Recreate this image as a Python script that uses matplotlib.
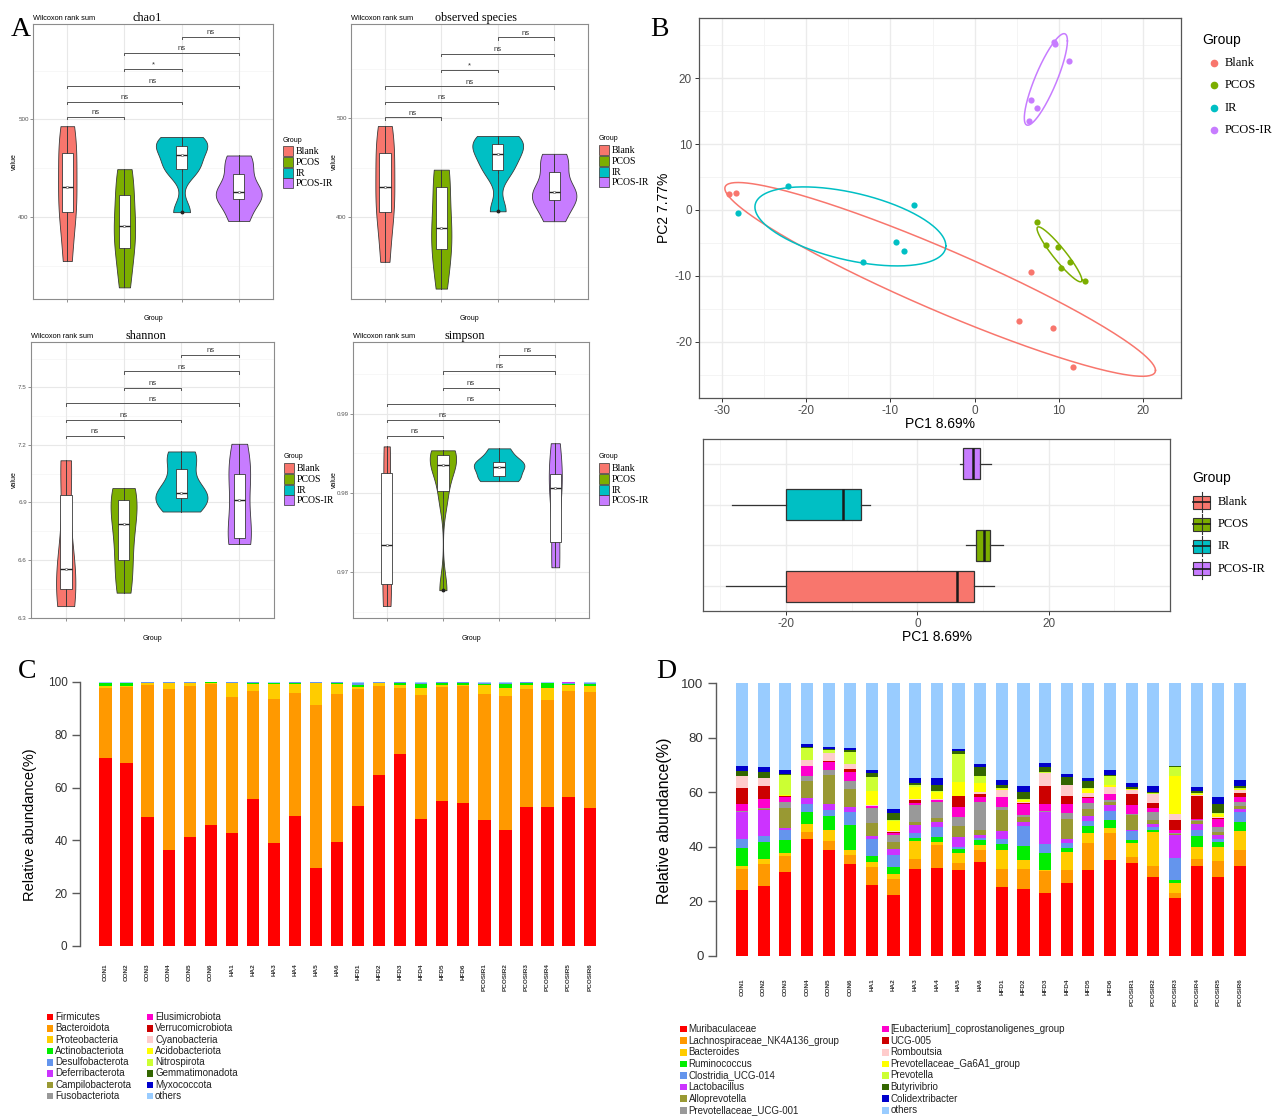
import numpy as np
import matplotlib
matplotlib.use("Agg")
import matplotlib.pyplot as plt
from matplotlib.patches import Rectangle
from matplotlib.lines import Line2D

W, H = 1280, 1117
SANS = ['Liberation Sans', 'DejaVu Sans']
SERIF = ['Liberation Serif', 'DejaVu Serif']
plt.rcParams['font.family'] = SANS
plt.rcParams['axes.unicode_minus'] = False

# ---------------- Panel A data (alpha diversity) ----------------
GROUPS = ['Blank', 'PCOS', 'IR', 'PCOS-IR']
GROUP_COLORS = ['#F8766D', '#7CAE00', '#00BFC4', '#C77CFF']

chao1_blank = [355, 402, 415, 447, 472, 493]
chao1_pcos = [328, 363, 383, 399, 430, 449]
chao1_ir = [405, 447, 455, 473, 473, 482]
chao1_pcosir = [396, 416, 424, 428, 449, 463]

obs_blank = [355, 402, 415, 446, 471, 492]
obs_pcos = [328, 364, 380, 398, 441, 448]
obs_ir = [406, 445, 457, 471, 475, 482]
obs_pcosir = [396, 416, 422, 428, 451, 464]

shannon_blank = [6.36, 6.42, 6.53, 6.58, 7.06, 7.12]
shannon_pcos = [6.43, 6.56, 6.72, 6.86, 6.93, 6.975]
shannon_ir = [6.853, 6.92, 6.93, 6.968, 7.112, 7.166]
shannon_pcosir = [6.684, 6.686, 6.80, 7.024, 7.059, 7.206]

simpson_blank = [0.9657, 0.9680, 0.9698, 0.9770, 0.9844, 0.9859]
simpson_pcos = [0.9677, 0.9794, 0.9830, 0.9840, 0.9850, 0.9854]
simpson_ir = [0.9815, 0.9818, 0.9831, 0.9836, 0.9841, 0.98565]
simpson_pcosir = [0.9706, 0.9718, 0.9800, 0.9812, 0.9828, 0.9863]

PAIRS = [(1, 2), (1, 3), (1, 4), (2, 3), (2, 4), (3, 4)]
chao1_sig = ['ns', 'ns', 'ns', '*', 'ns', 'ns']
obs_sig = ['ns', 'ns', 'ns', '*', 'ns', 'ns']
shannon_sig = ['ns'] * 6
simpson_sig = ['ns'] * 6
chao1_bracket_y = [502.4, 518.2, 534.6, 551.4, 567.8, 584.6]
obs_bracket_y = [500.7, 516.2, 532.0, 548.8, 565.0, 581.5]
shannon_bracket_y = [7.249, 7.332, 7.416, 7.498, 7.583, 7.670]
simpson_bracket_y = [0.98726, 0.98928, 0.99131, 0.99333, 0.99540, 0.99751]

# ---------------- Panel B data (PCA) ----------------
pc1_blank = [-29.15, -28.34, 6.66, 5.33, 9.27, 11.69]
pc2_blank = [2.38, 2.53, -9.47, -16.86, -17.87, -23.85]
pc1_pcos = [7.42, 8.51, 9.89, 11.31, 10.27, 13.07]
pc2_pcos = [-1.87, -5.32, -5.62, -7.95, -8.81, -10.78]
pc1_ir = [-22.17, -28.15, -7.21, -9.30, -8.44, -13.24]
pc2_ir = [3.70, -0.41, 0.71, -4.86, -6.18, -7.90]
pc1_pcosir = [9.46, 9.56, 11.26, 6.70, 7.37, 6.42]
pc2_pcosir = [25.47, 25.11, 22.53, 16.66, 15.44, 13.52]

# ---------------- Panels C / D data ----------------
SAMPLES = ['CON1', 'CON2', 'CON3', 'CON4', 'CON5', 'CON6',
           'HA1', 'HA2', 'HA3', 'HA4', 'HA5', 'HA6',
           'HFD1', 'HFD2', 'HFD3', 'HFD4', 'HFD5', 'HFD6',
           'PCOSIR1', 'PCOSIR2', 'PCOSIR3', 'PCOSIR4', 'PCOSIR5', 'PCOSIR6']

PHYLA = ['Firmicutes', 'Bacteroidota', 'Proteobacteria', 'Actinobacteriota',
         'Desulfobacterota', 'Deferribacterota', 'Campilobacterota', 'Fusobacteriota',
         'Elusimicrobiota', 'Verrucomicrobiota', 'Cyanobacteria', 'Acidobacteriota',
         'Nitrospirota', 'Gemmatimonadota', 'Myxococcota', 'others']
GENERA = ['Muribaculaceae', 'Lachnospiraceae_NK4A136_group', 'Bacteroides', 'Ruminococcus',
          'Clostridia_UCG-014', 'Lactobacillus', 'Alloprevotella', 'Prevotellaceae_UCG-001',
          '[Eubacterium]_coprostanoligenes_group', 'UCG-005', 'Romboutsia',
          'Prevotellaceae_Ga6A1_group', 'Prevotella', 'Butyrivibrio', 'Colidextribacter', 'others']
TAXA_COLORS = ['#FF0000', '#FF9900', '#FFCC00', '#00EE00', '#6495ED', '#CC33FF', '#999933',
               '#999999', '#FF00CC', '#CC0000', '#FFCCCC', '#FFFF00', '#CCFF33', '#336600',
               '#0000CC', '#99CCFF']

firmicutes = [71.2, 69.2, 48.7, 36.4, 41.2, 45.9, 42.7, 55.6, 39.2, 49.1, 29.6, 39.5,
              53.0, 64.7, 72.8, 48.2, 55.0, 54.0, 47.7, 44.1, 52.7, 52.8, 56.4, 52.1]
bacteroidota = [26.7, 28.9, 50.2, 61.1, 57.4, 53.5, 51.5, 41.1, 54.5, 46.6, 61.7, 56.0,
                44.2, 33.7, 25.1, 46.9, 43.1, 44.5, 47.6, 50.5, 44.7, 40.4, 40.2, 44.1]
proteobacteria = [0.6, 0.4, 0.6, 2.0, 0.9, 0.3, 5.4, 2.7, 5.4, 3.4, 8.2, 3.7,
                  0.9, 1.1, 0.8, 2.8, 0.9, 0.5, 3.4, 3.3, 1.3, 4.7, 2.1, 2.1]
actinobacteriota = [1.2, 1.2, 0.3, 0.3, 0.3, 0.2, 0.2, 0.4, 0.4, 0.6, 0.3, 0.6,
                    0.6, 0.3, 1.1, 1.2, 0.7, 0.7, 0.7, 1.2, 0.9, 1.6, 0.6, 0.9]
desulfobacterota = [0.1, 0.1, 0.1, 0.1, 0.1, 0.0, 0.1, 0.1, 0.3, 0.2, 0.1, 0.1,
                    1.1, 0.1, 0.1, 0.7, 0.2, 0.2, 0.4, 0.7, 0.3, 0.3, 0.2, 0.5]
deferribacterota = [0.0, 0.0, 0.0, 0.0, 0.0, 0.0, 0.0, 0.0, 0.0, 0.0, 0.0, 0.0,
                    0.0, 0.0, 0.0, 0.0, 0.0, 0.0, 0.0, 0.0, 0.0, 0.0, 0.4, 0.0]
phylum_others = [0.2, 0.2, 0.1, 0.1, 0.1, 0.1, 0.1, 0.1, 0.2, 0.1, 0.1, 0.1,
                 0.2, 0.1, 0.1, 0.2, 0.1, 0.1, 0.2, 0.2, 0.1, 0.2, 0.1, 0.3]

muribaculaceae = [24.3, 25.6, 30.6, 43.0, 38.7, 33.8, 25.9, 22.3, 32.0, 32.4, 31.6, 34.3,
                  25.3, 24.5, 23.1, 26.7, 31.6, 35.0, 34.1, 29.1, 21.4, 33.0, 28.9, 33.1]
lachno_nk4a136 = [7.4, 8.2, 6.0, 2.4, 3.4, 3.1, 6.6, 5.9, 3.4, 8.4, 2.6, 4.7,
                  6.7, 7.2, 8.0, 4.7, 9.8, 10.1, 2.0, 3.7, 1.8, 2.4, 5.8, 5.9]
bacteroides = [1.1, 1.6, 1.3, 3.1, 3.9, 2.1, 1.8, 2.0, 6.6, 1.1, 3.4, 1.8,
               6.7, 3.6, 0.3, 6.7, 3.7, 1.8, 5.3, 12.6, 3.5, 4.5, 5.2, 6.7]
ruminococcus = [6.9, 6.2, 4.7, 4.1, 5.4, 8.9, 2.3, 2.4, 1.1, 1.7, 1.5, 1.6,
                2.4, 5.0, 6.5, 1.3, 2.4, 2.9, 1.2, 0.9, 1.3, 3.9, 1.7, 3.4]
clostridia_ucg014 = [3.0, 2.4, 3.7, 3.0, 2.2, 5.0, 6.3, 4.4, 2.1, 3.7, 0.8, 0.9,
                     1.9, 7.3, 3.2, 2.0, 2.0, 3.3, 3.1, 1.0, 7.9, 2.2, 1.1, 3.6]
lactobacillus = [9.9, 9.6, 0.7, 2.4, 2.1, 1.7, 1.1, 2.2, 2.8, 1.9, 3.7, 1.1,
                 2.8, 1.5, 11.6, 1.6, 1.8, 2.1, 0.3, 0.9, 8.3, 2.2, 1.5, 1.3]
alloprevotella = [0.3, 0.2, 7.3, 6.0, 10.6, 6.7, 4.7, 2.4, 1.1, 1.2, 3.9, 1.9,
                  7.8, 1.8, 0.2, 7.2, 2.7, 1.2, 5.8, 1.7, 0.5, 1.3, 1.2, 1.1]
prevotellaceae_ucg001 = [0.2, 0.3, 2.1, 1.8, 2.0, 2.7, 5.5, 2.8, 6.1, 6.0, 3.4, 10.0,
                         1.0, 0.7, 0.3, 2.2, 2.2, 0.6, 0.3, 2.8, 0.4, 0.4, 1.9, 1.3]
eubacterium_copro = [2.5, 3.3, 1.8, 3.7, 2.6, 3.4, 0.6, 0.7, 1.0, 0.6, 3.7, 1.8,
                     3.6, 4.0, 2.4, 3.3, 1.6, 2.2, 3.1, 1.5, 0.9, 0.3, 3.0, 1.8]
ucg005 = [5.8, 5.0, 0.3, 0.1, 0.4, 1.2, 0.2, 0.3, 0.8, 0.2, 3.9, 1.1,
          0.2, 0.4, 6.8, 2.8, 0.3, 0.2, 4.0, 1.8, 3.9, 8.3, 0.4, 1.5]
romboutsia = [4.5, 2.8, 0.2, 2.1, 3.2, 1.6, 0.3, 0.4, 0.4, 0.4, 0.2, 0.7,
              2.5, 0.4, 4.8, 4.0, 1.6, 2.5, 1.7, 3.2, 2.2, 0.6, 0.2, 1.2]
prevotellaceae_ga6a1 = [0.0, 0.0, 0.2, 0.0, 0.0, 0.2, 5.1, 3.7, 4.5, 2.5, 5.0, 3.5,
                        0.3, 0.9, 0.0, 0.1, 1.5, 0.6, 0.1, 0.2, 13.7, 0.3, 1.2, 0.3]
prevotella = [0.0, 0.0, 7.3, 4.5, 0.8, 4.4, 5.2, 0.3, 0.6, 0.3, 10.3, 2.7,
              0.3, 0.1, 0.2, 0.1, 0.3, 3.3, 0.3, 0.2, 3.4, 0.3, 0.2, 0.5]
butyrivibrio = [1.9, 2.1, 0.3, 0.4, 0.4, 0.5, 1.4, 2.6, 1.0, 2.4, 1.0, 3.1,
                1.0, 2.7, 1.8, 2.9, 2.6, 0.4, 0.6, 0.6, 0.3, 0.6, 3.5, 0.4]
colidextribacter = [1.8, 1.9, 1.8, 0.9, 0.7, 0.9, 1.0, 1.3, 1.6, 2.3, 0.7, 1.3,
                    2.1, 2.0, 1.5, 1.2, 1.0, 1.8, 1.6, 1.9, 0.2, 1.6, 2.4, 2.2]
genus_others = [30.4, 30.8, 31.7, 22.5, 23.6, 23.8, 32.0, 46.3, 34.9, 34.9, 24.3, 29.5,
                35.4, 37.9, 29.3, 33.2, 34.9, 32.0, 36.5, 37.9, 30.3, 38.1, 41.8, 35.7]

# =================================================================
fig = plt.figure(figsize=(W / 100, H / 100), dpi=100)


def px_axes(l, t, r, b):
    return fig.add_axes([l / W, 1 - b / H, (r - l) / W, (b - t) / H])


def ftext(x, y, s, **kw):
    return fig.text(x / W, 1 - y / H, s, **kw)


def frect(l, t, w, h, **kw):
    r = Rectangle((l / W, 1 - (t + h) / H), w / W, h / H, transform=fig.transFigure, **kw)
    fig.add_artist(r)
    return r


def fline(xs, ys, **kw):
    ln = Line2D([x / W for x in xs], [1 - y / H for y in ys], transform=fig.transFigure, **kw)
    fig.add_artist(ln)
    return ln


def nrd0(x):
    x = np.asarray(x, float)
    sd = x.std(ddof=1)
    q75, q25 = np.percentile(x, [75, 25])
    lo = min(sd, (q75 - q25) / 1.34)
    if lo <= 0:
        lo = sd
    return 0.9 * lo * len(x) ** -0.2


def kde(x, grid):
    x = np.asarray(x, float)
    bw = nrd0(x)
    z = (grid[:, None] - x[None, :]) / bw
    return np.exp(-0.5 * z ** 2).sum(1) / (len(x) * bw * np.sqrt(2 * np.pi))


# ---------------- Panel A ----------------
def alpha_panel(rect, samples, ylim, major, minor, fmt, br_y, br_lab,
                title, title_x, text_y, legend_xy, ylab_x, xlab_y):
    l, t, r, b = rect
    ax = px_axes(l, t, r, b)
    ax.set_xlim(0.4, 4.6)
    ax.set_ylim(*ylim)
    for v in minor:
        ax.axhline(v, color='#F4F4F4', lw=0.5, zorder=0)
    for v in major:
        ax.axhline(v, color='#E8E8E8', lw=0.8, zorder=0)
    for k in range(1, 5):
        ax.axvline(k, color='#E8E8E8', lw=0.8, zorder=0)
    grids, dens = [], []
    for s in samples:
        g = np.linspace(min(s), max(s), 512)
        grids.append(g)
        dens.append(kde(s, g))
    dmax = max(d.max() for d in dens)
    for i, (s, g, d) in enumerate(zip(samples, grids, dens)):
        xc = i + 1
        hw = 0.45 * d / dmax
        ax.fill_betweenx(g, xc - hw, xc + hw, facecolor=GROUP_COLORS[i],
                         edgecolor='#3a3a3a', lw=0.6, zorder=2)
        ax.plot([xc, xc], [min(s), max(s)], color='#3a3a3a', lw=0.6, zorder=3)
    ax.boxplot(samples, positions=[1, 2, 3, 4], widths=0.2, patch_artist=True,
               manage_ticks=False, zorder=4,
               boxprops=dict(facecolor='white', edgecolor='#3a3a3a', lw=0.6),
               medianprops=dict(color='#222222', lw=1.0),
               whiskerprops=dict(color='#3a3a3a', lw=0.6),
               capprops=dict(lw=0),
               flierprops=dict(marker='o', markersize=1.8, markerfacecolor='#222222',
                               markeredgecolor='#222222'))
    for i, s in enumerate(samples):
        ax.plot(i + 1, np.median(s), 'o', ms=1.6, mfc='white', mec='#555555', mew=0.4, zorder=5)
    rng = ylim[1] - ylim[0]
    tip = 0.008 * rng
    for (a, bb), yv, lab in zip(PAIRS, br_y, br_lab):
        ax.plot([a, a, bb, bb], [yv - tip, yv, yv, yv - tip], color='#555555', lw=0.7, zorder=3)
        ax.text((a + bb) / 2, yv + 0.003 * rng, lab, ha='center', va='bottom',
                fontsize=5.5, color='#333333')
    ax.set_yticks(major)
    ax.set_yticklabels([fmt.format(v) for v in major])
    ax.set_xticks([1, 2, 3, 4])
    ax.set_xticklabels([])
    ax.tick_params(length=2, width=0.5, color='#666666', labelsize=4.5,
                   labelcolor='#555555', pad=1)
    for sp in ax.spines.values():
        sp.set_color('#8c8c8c')
        sp.set_linewidth(0.8)
    ftext(l, text_y, 'Wilcoxon rank sum', fontsize=5.3, ha='left', va='baseline')
    ftext(title_x, text_y + 1, title, fontsize=8.7, family=SERIF, ha='center', va='baseline')
    ftext(ylab_x, (t + b) / 2, 'value', fontsize=5, rotation=90, ha='center', va='center')
    ftext((l + r) / 2, xlab_y, 'Group', fontsize=5, ha='center', va='center')
    lx, ly = legend_xy
    ftext(lx, ly, 'Group', fontsize=5, ha='left', va='center')
    for i, (g, c) in enumerate(zip(GROUPS, GROUP_COLORS)):
        top = ly + 6 + i * 10.8
        frect(lx, top, 10, 10, facecolor=c, edgecolor='#333333', lw=0.5)
        ftext(lx + 13, top + 5.5, g, fontsize=7, family=SERIF, ha='left', va='center')
    return ax


alpha_panel((33, 24, 273, 299), [chao1_blank, chao1_pcos, chao1_ir, chao1_pcosir],
            (316.1, 597.6), [400, 500], [350, 450, 550], '{:.0f}',
            chao1_bracket_y, chao1_sig, 'chao1', 147, 20, (283, 140), 14.5, 319)
alpha_panel((351, 24, 588, 299), [obs_blank, obs_pcos, obs_ir, obs_pcosir],
            (317.5, 595.0), [400, 500], [350, 450, 550], '{:.0f}',
            obs_bracket_y, obs_sig, 'observed species', 476, 20, (599, 139), 334, 319)
alpha_panel((31, 342, 274, 618), [shannon_blank, shannon_pcos, shannon_ir, shannon_pcosir],
            (6.298, 7.7365), [6.3, 6.6, 6.9, 7.2, 7.5], [6.45, 6.75, 7.05, 7.35, 7.65], '{:.1f}',
            shannon_bracket_y, shannon_sig, 'shannon', 146, 337.5, (284, 457), 14, 638)
alpha_panel((353, 342, 589, 618), [simpson_blank, simpson_pcos, simpson_ir, simpson_pcosir],
            (0.96418, 0.99911), [0.97, 0.98, 0.99], [0.965, 0.975, 0.985, 0.995], '{:.2f}',
            simpson_bracket_y, simpson_sig, 'simpson', 465, 337.5, (599, 457), 334, 638)

# ---------------- Panel B: PCA scatter ----------------
PC1 = [pc1_blank, pc1_pcos, pc1_ir, pc1_pcosir]
PC2 = [pc2_blank, pc2_pcos, pc2_ir, pc2_pcosir]

axS = px_axes(699, 18, 1181, 398)
axS.set_xlim(-32.73, 24.51)
axS.set_ylim(-28.5, 29.1)
for v in [-25, -15, -5, 5, 15]:
    axS.axvline(v, color='#F3F3F3', lw=0.6, zorder=0)
for v in [-25, -15, -5, 5, 15, 25]:
    axS.axhline(v, color='#F3F3F3', lw=0.6, zorder=0)
for v in [-30, -20, -10, 0, 10, 20]:
    axS.axvline(v, color='#EBEBEB', lw=1.0, zorder=0)
for v in [-20, -10, 0, 10, 20]:
    axS.axhline(v, color='#EBEBEB', lw=1.0, zorder=0)


def ellipse(x, y, r=1.33, n=240):
    x = np.asarray(x, float)
    y = np.asarray(y, float)
    cov = np.cov(x, y)
    L = np.linalg.cholesky(cov)
    t = np.linspace(0, 2 * np.pi, n)
    pts = L @ np.vstack([np.cos(t), np.sin(t)]) * r
    return x.mean() + pts[0], y.mean() + pts[1]


for x, y, c in zip(PC1, PC2, GROUP_COLORS):
    ex, ey = ellipse(x, y)
    axS.plot(ex, ey, color=c, lw=1.1, zorder=2)
    axS.scatter(x, y, s=20, color=c, linewidths=0, zorder=3)
axS.set_xticks([-30, -20, -10, 0, 10, 20])
axS.set_yticks([-20, -10, 0, 10, 20])
axS.tick_params(length=3, width=0.7, color='#333333', labelsize=8.5, labelcolor='#4D4D4D', pad=2)
for sp in axS.spines.values():
    sp.set_color('#555555')
    sp.set_linewidth(0.9)
ftext(940, 424, 'PC1 8.69%', fontsize=10, ha='center', va='center')
ftext(664, 208, 'PC2 7.77%', fontsize=10, rotation=90, ha='center', va='center')
ftext(1202, 40, 'Group', fontsize=10, ha='left', va='center')
for i, (g, c) in enumerate(zip(GROUPS, GROUP_COLORS)):
    yy = 63 + i * 22.3
    fline([1214], [yy], marker='o', ms=4.5, color=c, mec=c, lw=0)
    ftext(1225, yy, g, fontsize=9, family=SERIF, ha='left', va='center')

# ---------------- Panel B: PC1 boxplot ----------------
axBx = px_axes(703, 439, 1170, 611)
axBx.set_xlim(-32.63, 38.45)
axBx.set_ylim(0.4, 4.6)
for v in [-30, -10, 10, 30]:
    axBx.axvline(v, color='#F3F3F3', lw=0.6, zorder=0)
for v in [-20, 0, 20]:
    axBx.axvline(v, color='#EBEBEB', lw=1.0, zorder=0)
for v in [1, 2, 3, 4]:
    axBx.axhline(v, color='#EBEBEB', lw=1.0, zorder=0)
bx_kw = dict(positions=[1, 2, 3, 4], widths=0.75, patch_artist=True, manage_ticks=False,
             zorder=3,
             boxprops=dict(edgecolor='#333333', lw=0.9),
             medianprops=dict(color='#1a1a1a', lw=1.8),
             whiskerprops=dict(color='#333333', lw=0.9),
             capprops=dict(lw=0),
             flierprops=dict(marker='o', markersize=3, markerfacecolor='#333333'))
try:
    bp = axBx.boxplot(PC1, orientation='horizontal', **bx_kw)
except TypeError:
    bp = axBx.boxplot(PC1, vert=False, **bx_kw)
for patch, c in zip(bp['boxes'], GROUP_COLORS):
    patch.set_facecolor(c)
axBx.set_xticks([-20, 0, 20])
axBx.set_yticks([])
axBx.tick_params(axis='x', length=3, width=0.7, color='#333333', labelsize=8.5,
                 labelcolor='#4D4D4D', pad=2)
for sp in axBx.spines.values():
    sp.set_color('#555555')
    sp.set_linewidth(0.9)
ftext(937, 637, 'PC1 8.69%', fontsize=10, ha='center', va='center')
ftext(1192, 478, 'Group', fontsize=10, ha='left', va='center')
for i, (g, c) in enumerate(zip(GROUPS, GROUP_COLORS)):
    yc = 502 + i * 22.2
    fline([1201.5, 1201.5], [yc - 10, yc + 10], color='#333333', lw=0.8)
    frect(1193, yc - 6.5, 17, 13, facecolor=c, edgecolor='#333333', lw=0.8)
    fline([1193, 1210], [yc, yc], color='#1a1a1a', lw=1.2)
    ftext(1218, yc, g, fontsize=9, family=SERIF, ha='left', va='center')


# ---------------- Panels C and D: stacked bars ----------------
def stacked_panel(l, r, top, bottom, first_px, step_px, layers, colors, width,
                  ticksize, xlabsize, xpad, ylabx, ylaby, ylabsize):
    ax = px_axes(l, top, r, bottom)
    x = np.arange(len(SAMPLES))
    ax.set_xlim((l - first_px) / step_px, (r - first_px) / step_px)
    ax.set_ylim(0, 100)
    base = np.zeros(len(SAMPLES))
    for vals, col in zip(layers, colors):
        v = np.asarray(vals, float)
        ax.bar(x, v, width, bottom=base, color=col, linewidth=0, zorder=2)
        base = base + v
    for s in ['top', 'right', 'bottom']:
        ax.spines[s].set_visible(False)
    ax.spines['left'].set_color('#5a5a5a')
    ax.spines['left'].set_linewidth(1.0)
    ax.set_yticks([0, 20, 40, 60, 80, 100])
    ax.tick_params(axis='y', length=5.5, width=1.0, color='#5a5a5a', labelsize=ticksize,
                   labelcolor='#333333', pad=3.5)
    ax.set_xticks(x)
    ax.set_xticklabels(SAMPLES, rotation=90, fontsize=xlabsize, fontweight='bold',
                       color='#333333')
    ax.tick_params(axis='x', length=0, pad=xpad)
    ftext(ylabx, ylaby, 'Relative abundance(%)', fontsize=ylabsize,
          rotation=90, ha='center', va='center')
    return ax


C_LAYERS = [firmicutes, bacteroidota, proteobacteria, actinobacteriota, desulfobacterota,
            deferribacterota, phylum_others]
C_COLORS = TAXA_COLORS[:6] + [TAXA_COLORS[15]]
stacked_panel(80, 610, 682, 946, 105.5, 21.05, C_LAYERS, C_COLORS,
              0.58, 8.5, 4.6, 12.5, 30, 825, 10.5)

D_LAYERS = [muribaculaceae, lachno_nk4a136, bacteroides, ruminococcus, clostridia_ucg014,
            lactobacillus, alloprevotella, prevotellaceae_ucg001, eubacterium_copro, ucg005,
            romboutsia, prevotellaceae_ga6a1, prevotella, butyrivibrio, colidextribacter,
            genus_others]
stacked_panel(716, 1262, 683, 956, 742, 21.65, D_LAYERS, TAXA_COLORS,
              0.56, 9.5, 4.6, 16, 665, 821, 11.5)


def legend_block(x1, x2, y0, dy, names):
    half = len(names) // 2
    for i, (nm, c) in enumerate(zip(names, TAXA_COLORS)):
        col = 0 if i < half else 1
        row = i if i < half else i - half
        xx = x1 if col == 0 else x2
        yy = y0 + row * dy
        frect(xx, yy - 3.2, 6.5, 6.5, facecolor=c, edgecolor='none')
        ftext(xx + 8.5, yy, nm, fontsize=7, ha='left', va='center', color='#222222')


legend_block(46.5, 146.5, 1017, 11.3, PHYLA)
legend_block(680, 882, 1029, 11.6, GENERA)

# Panel letters
for ch, (x, y) in zip('ABCD', [(21, 30), (659, 29), (27, 671), (666, 672)]):
    ftext(x, y, ch, fontsize=20, family=SERIF, ha='center', va='center')

fig.savefig('out.png', dpi=100)
